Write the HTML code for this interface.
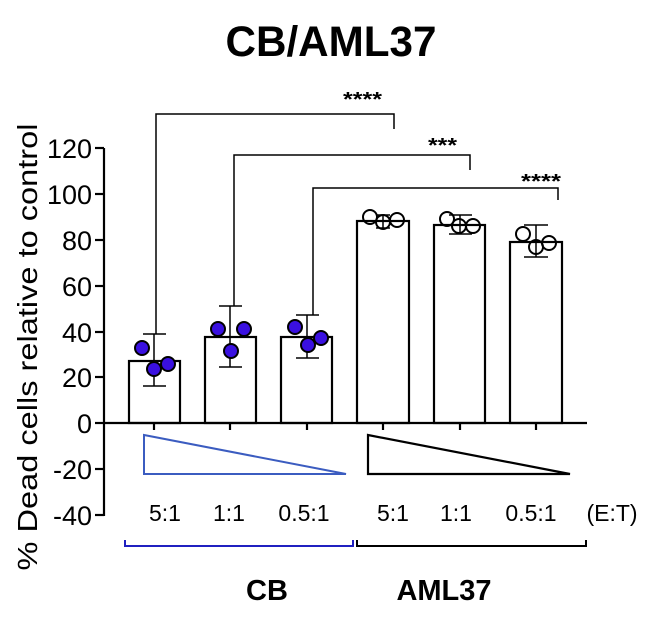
<!DOCTYPE html>
<html><head><meta charset="utf-8"><style>body{margin:0;background:#fff}svg{display:block}</style></head>
<body>
<svg width="653" height="631" viewBox="0 0 653 631" xmlns="http://www.w3.org/2000/svg" font-family="Liberation Sans, Arial, sans-serif">
<text x="331" y="56" font-size="43" font-weight="bold" text-anchor="middle" textLength="211" lengthAdjust="spacingAndGlyphs">CB/AML37</text>
<text transform="translate(37,347) rotate(-90)" font-size="28" text-anchor="middle" textLength="447" lengthAdjust="spacingAndGlyphs">% Dead cells relative to control</text>
<g stroke="#000" stroke-width="2.2" fill="none">
<line x1="104" y1="148" x2="104" y2="516"/>
<line x1="103" y1="423" x2="587" y2="423"/>
<line x1="95" y1="148" x2="104" y2="148"/><line x1="95" y1="194" x2="104" y2="194"/><line x1="95" y1="240" x2="104" y2="240"/><line x1="95" y1="286" x2="104" y2="286"/><line x1="95" y1="332" x2="104" y2="332"/><line x1="95" y1="377" x2="104" y2="377"/><line x1="95" y1="423" x2="104" y2="423"/><line x1="95" y1="469" x2="104" y2="469"/><line x1="95" y1="515" x2="104" y2="515"/>
<line x1="154" y1="423" x2="154" y2="430"/><line x1="230" y1="423" x2="230" y2="430"/><line x1="307" y1="423" x2="307" y2="430"/><line x1="383" y1="423" x2="383" y2="430"/><line x1="460" y1="423" x2="460" y2="430"/><line x1="536" y1="423" x2="536" y2="430"/>
<rect x="129" y="361" width="51" height="62"/><rect x="205" y="337" width="51" height="86"/><rect x="281" y="337" width="51" height="86"/>
<rect x="357" y="221" width="52" height="202"/><rect x="434" y="225" width="51" height="198"/><rect x="510" y="242" width="52" height="181"/>
</g>
<g font-size="27" text-anchor="end">
<text x="92" y="158">120</text><text x="92" y="204">100</text><text x="92" y="250">80</text><text x="92" y="296">60</text><text x="92" y="342">40</text><text x="92" y="387">20</text><text x="92" y="433">0</text><text x="92" y="479">-20</text><text x="92" y="525">-40</text>
</g>
<g stroke="#000" stroke-width="1.5" fill="none">
<path d="M156 334 V114 H394 V129"/><path d="M234 306 V155 H470 V170"/><path d="M313 315 V188 H558 V200"/>
<path d="M154 334 V386 M143 334 H166 M143 386 H166"/>
<path d="M230 306 V367 M219 306 H242 M219 367 H242"/>
<path d="M307 315 V358 M296 315 H319 M296 358 H319"/>
<path d="M383 215 V228 M376 215 H390 M376 228 H390"/>
<path d="M460 215 V234 M449 215 H472 M449 234 H472"/>
<path d="M536 225 V257 M524 225 H548 M524 257 H548"/>
</g>
<g fill="#3a10e0" stroke="#000" stroke-width="2">
<circle cx="142" cy="348" r="7"/><circle cx="154" cy="369" r="7"/><circle cx="168" cy="364" r="7"/>
<circle cx="218" cy="329" r="7"/><circle cx="231" cy="351" r="7"/><circle cx="244" cy="329" r="7"/>
<circle cx="295" cy="327" r="7"/><circle cx="308" cy="345" r="7"/><circle cx="321" cy="338" r="7"/>
</g>
<g fill="none" stroke="#000" stroke-width="2">
<circle cx="370" cy="217" r="7"/><circle cx="383" cy="222" r="7"/><circle cx="397" cy="220" r="7"/>
<circle cx="447" cy="219" r="7"/><circle cx="459" cy="226" r="7"/><circle cx="473" cy="226" r="7"/>
<circle cx="523" cy="234" r="7"/><circle cx="536" cy="247" r="7"/><circle cx="549" cy="243" r="7"/>
</g>
<g font-size="20" font-weight="bold">
<text x="343" y="106" textLength="39" lengthAdjust="spacingAndGlyphs">****</text>
<text x="428" y="152" textLength="29" lengthAdjust="spacingAndGlyphs">***</text>
<text x="521" y="188" textLength="40" lengthAdjust="spacingAndGlyphs">****</text>
</g>
<polygon points="144,435 144,474 346,474" fill="none" stroke="#3b5cc0" stroke-width="2"/>
<polygon points="368,435 368,474 570,474" fill="none" stroke="#000" stroke-width="2.2"/>
<g font-size="23" text-anchor="middle">
<text x="165" y="521">5:1</text><text x="229" y="521">1:1</text><text x="304" y="521">0.5:1</text>
<text x="393" y="521">5:1</text><text x="456" y="521">1:1</text><text x="531" y="521">0.5:1</text><text x="612" y="521">(E:T)</text>
</g>
<path d="M125 540 V546 H353 V540" fill="none" stroke="#2020c0" stroke-width="2"/>
<path d="M357 540 V546 H586 V540" fill="none" stroke="#000" stroke-width="2"/>
<g font-size="29" font-weight="bold" text-anchor="middle">
<text x="267" y="600">CB</text><text x="444" y="600">AML37</text>
</g>
</svg>
</body></html>
